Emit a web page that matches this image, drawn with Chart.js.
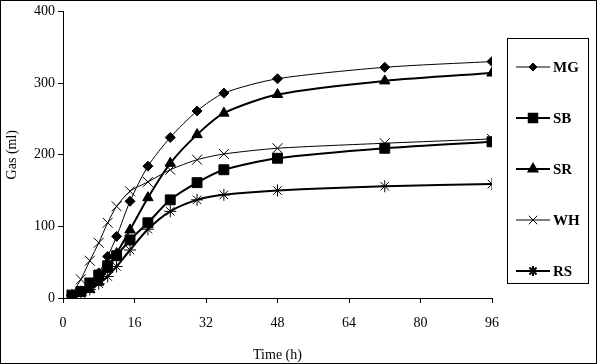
<!DOCTYPE html>
<html>
<head>
<meta charset="utf-8">
<script src="https://cdn.jsdelivr.net/npm/chart.js@4.4.0/dist/chart.umd.min.js"></script>
<style>
  html, body { margin: 0; padding: 0; background: #fff; }
  canvas { display: block; }
</style>
</head>
<body>
<canvas id="chart" width="597" height="364"></canvas>
<script>
// gas production readings (ml) at each incubation time (h)
const times = [2, 4, 6, 8, 10, 12, 15, 19, 24, 30, 36, 48, 72, 96];
const mg = [5, 10, 20, 35, 58, 86, 135, 184, 224, 261, 286, 306, 322, 330];
const sb = [4, 9, 21, 32, 45, 59, 81, 105, 137, 161, 179, 195, 209, 218];
const sr = [3, 7, 12, 22, 40, 62, 95, 140, 188, 228, 258, 284, 303, 314];
const wh = [5, 26, 52, 77, 105, 128, 149, 162, 179, 193, 201, 209, 216, 222];
const rs = [3, 6, 12, 20, 30, 44, 67, 96, 121, 137, 144, 150, 156, 159];

const xTicks = [0, 16, 32, 48, 64, 80, 96];
const yTicks = [0, 100, 200, 300, 400];

const serif = "'Liberation Serif', 'Times New Roman', serif";

function series(label, values, style, radius, width) {
    return {
        label: label,
        data: times.map((t, i) => ({ x: t, y: values[i] })),
        borderColor: '#000',
        backgroundColor: '#000',
        borderWidth: width,
        pointStyle: style,
        pointRadius: radius,
        pointBorderWidth: 1,
        tension: 0.25,
        fill: false
    };
}

// legend in a framed box on the right, plus the outer frame
const frame = {
    id: 'frame',
    afterDraw(c) {
        const ctx = c.ctx;
        ctx.save();
        ctx.strokeStyle = '#000';
        ctx.lineWidth = 1;
        ctx.strokeRect(0.5, 0.5, 596, 363);
        ctx.strokeRect(507.5, 38.5, 81, 245);
        c.data.datasets.forEach((ds, i) => {
            const y = 67 + i * 51;
            ctx.lineWidth = ds.borderWidth;
            ctx.beginPath();
            ctx.moveTo(516, y);
            ctx.lineTo(550, y);
            ctx.stroke();
            Chart.helpers.drawPoint(ctx, {
                pointStyle: ds.pointStyle,
                radius: ds.pointRadius - 1,
                rotation: 0,
                borderWidth: 1
            }, 533, y);
            ctx.fillStyle = '#000';
            ctx.font = 'bold 15px ' + serif;
            ctx.textBaseline = 'middle';
            ctx.fillText(ds.label, 553, y + 1);
        });
        ctx.restore();
    }
};

new Chart(document.getElementById('chart'), {
    type: 'line',
    data: {
        datasets: [
            series('MG', mg, 'rectRot', 5, 1),
            series('SB', sb, 'rect', 7, 2),
            series('SR', sr, 'triangle', 6, 2),
            series('WH', wh, 'crossRot', 7, 1),
            series('RS', rs, 'star', 6, 2)
        ]
    },
    options: {
        responsive: false,
        animation: false,
        layout: { padding: { left: 0, right: 105, top: 11, bottom: 0 } },
        plugins: { legend: { display: false }, tooltip: { enabled: false } },
        scales: {
            x: {
                type: 'linear',
                min: 0,
                max: 96,
                afterBuildTicks: s => { s.ticks = xTicks.map(v => ({ value: v })); },
                afterFit: s => { s.height = 66; },
                grid: { drawOnChartArea: false, color: '#000', tickLength: 5 },
                border: { color: '#000', width: 1 },
                ticks: { color: '#000', font: { family: serif, size: 14 }, padding: 12, maxRotation: 0 },
                title: { display: true, text: 'Time (h)', color: '#000', font: { family: serif, size: 14 }, padding: { top: 3, bottom: 0 } }
            },
            y: {
                min: 0,
                max: 400,
                afterBuildTicks: s => { s.ticks = yTicks.map(v => ({ value: v })); },
                afterFit: s => { s.width = 63; },
                grid: { drawOnChartArea: false, color: '#000', tickLength: 5 },
                border: { color: '#000', width: 1 },
                ticks: { color: '#000', font: { family: serif, size: 14 }, padding: 3 },
                title: { display: true, text: 'Gas (ml)', color: '#000', font: { family: serif, size: 14 }, padding: { bottom: 6 } }
            }
        }
    },
    plugins: [frame]
});
</script>
</body>
</html>
